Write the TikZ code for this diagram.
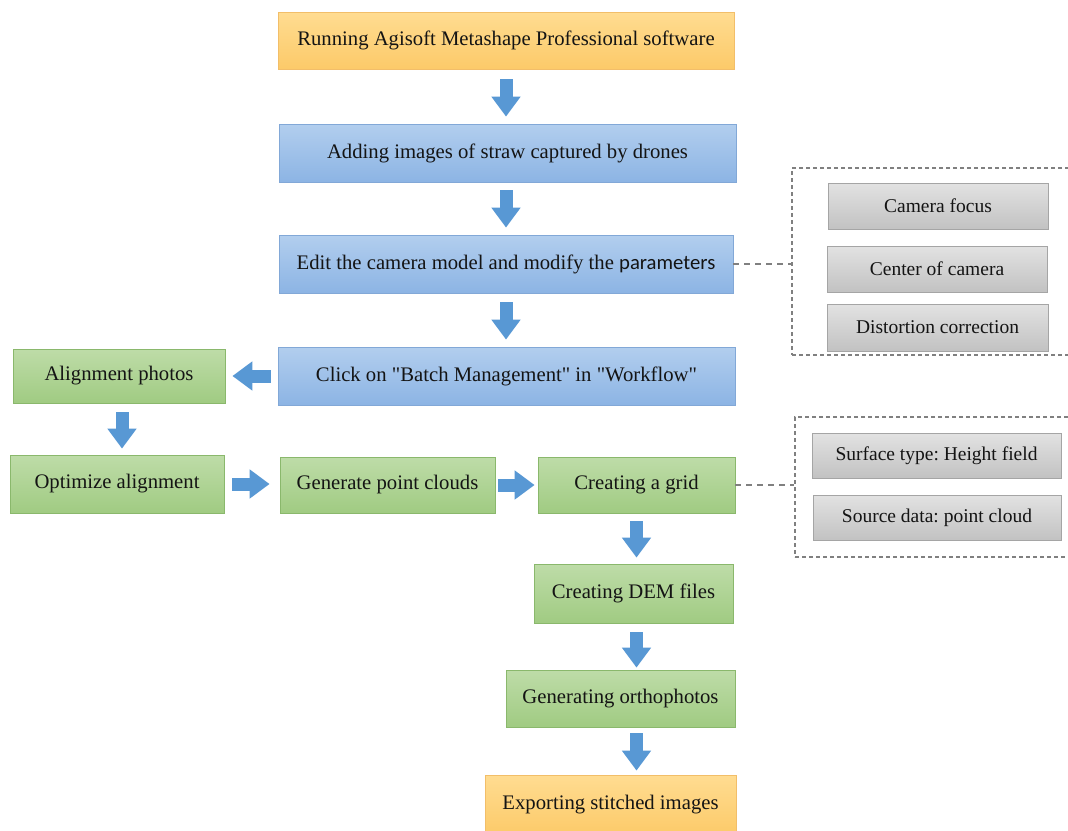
\documentclass[tikz,border=0pt]{standalone}
\usepackage{fontspec}
\setmainfont{Liberation Serif}
\newfontfamily\calibfont{Carlito}
\usetikzlibrary{arrows.meta,calc}
\definecolor{orT}{RGB}{255,220,145}
\definecolor{orB}{RGB}{252,202,105}
\definecolor{orD}{RGB}{242,190,105}
\definecolor{blT}{RGB}{178,206,238}
\definecolor{blB}{RGB}{140,180,228}
\definecolor{blD}{RGB}{130,168,215}
\definecolor{grT}{RGB}{190,220,168}
\definecolor{grB}{RGB}{160,203,130}
\definecolor{grD}{RGB}{138,184,108}
\definecolor{gyT}{RGB}{226,226,226}
\definecolor{gyB}{RGB}{194,194,194}
\definecolor{gyD}{RGB}{165,165,165}
\definecolor{arrc}{RGB}{88,152,212}
\definecolor{dashc}{RGB}{128,128,128}
\definecolor{txt}{RGB}{20,20,20}
\frenchspacing
\begin{document}
\begin{tikzpicture}[x=1pt,y=-1pt,
  font=\fontsize{20.7}{24}\selectfont,
  box/.style={draw, line width=0.8pt, inner sep=0pt, align=center, text=txt},
  orangebox/.style={box, draw=orD, top color=orT, bottom color=orB},
  bluebox/.style={box, draw=blD, top color=blT, bottom color=blB},
  greenbox/.style={box, draw=grD, top color=grT, bottom color=grB},
  graybox/.style={box, draw=gyD, top color=gyT, bottom color=gyB, font=\fontsize{19.5}{23}\selectfont},
  dashbox/.style={draw=dashc, line width=1.1pt, dash pattern=on 4pt off 3pt, inner sep=0pt},
  dashlink/.style={draw=dashc, line width=1.1pt, dash pattern=on 6pt off 5pt},
  blockarrow/.style={draw=arrc, line width=13pt, -{Triangle[length=20pt,width=28pt]}}
]
\useasboundingbox (0,0) rectangle (1068,830);
\clip (0,0) rectangle (1068,830);
\fill[white] (0,0) rectangle (1068,830);

% main column
\node[orangebox, minimum width=456pt, minimum height=57pt] (n1) at (506,40.5) {Running Agisoft Metashape Professional software};
\node[bluebox, minimum width=457pt, minimum height=58pt] (n2) at (507.5,153) {Adding images of straw captured by drones};
\node[bluebox, minimum width=454pt, minimum height=58pt] (n3) at (506,264) {Edit the camera model and modify the {\calibfont parameters}};
\node[bluebox, minimum width=457pt, minimum height=58pt] (n4) at (506.5,376) {Click on \textquotedbl Batch Management\textquotedbl{} in \textquotedbl Workflow\textquotedbl};

% green steps
\node[greenbox, minimum width=212pt, minimum height=54pt] (a1) at (119,376) {Alignment photos};
\node[greenbox, minimum width=214pt, minimum height=58pt] (a2) at (117,484) {Optimize alignment};
\node[greenbox, minimum width=215pt, minimum height=56pt] (a3) at (387.5,485) {Generate point clouds};
\node[greenbox, minimum width=197pt, minimum height=56pt] (a4) at (636.5,485) {Creating a grid};
\node[greenbox, minimum width=199pt, minimum height=59pt] (a5) at (633.5,593.5) {Creating DEM files};
\node[greenbox, minimum width=229pt, minimum height=57pt] (a6) at (620.5,698.5) {Generating orthophotos};
\node[orangebox, minimum width=251pt, minimum height=60pt] (a7) at (610.5,805) {Exporting stitched images};

% camera parameter group
\node[dashbox, minimum width=283pt, minimum height=187pt] (d1) at (933.5,261.5) {};
\node[graybox, minimum width=220pt, minimum height=46pt] (g1) at (938,206) {Camera focus};
\node[graybox, minimum width=220pt, minimum height=46pt] (g2) at (937,269) {Center of camera};
\node[graybox, minimum width=221pt, minimum height=47pt] (g3) at (937.5,327.5) {Distortion correction};

% grid parameter group
\node[dashbox, minimum width=280pt, minimum height=140pt] (d2) at (935,487) {};
\node[graybox, minimum width=249pt, minimum height=45pt] (g4) at (936.5,455.5) {Surface type: Height field};
\node[graybox, minimum width=248pt, minimum height=45pt] (g5) at (937,517.5) {Source data: point cloud};

% dashed links
\draw[dashlink] (n3.east) -- (n3.east -| d1.west);
\draw[dashlink] (a4.east) -- (a4.east -| d2.west);

% block arrows
\draw[blockarrow, shorten <=10pt, shorten >=7pt] (n1.south) -- (n2.north -| n1.south);
\draw[blockarrow, shorten <=8pt, shorten >=7pt] (n2.south -| n1.south) -- (n3.north -| n1.south);
\draw[blockarrow, shorten <=9pt, shorten >=7pt] (n3.south -| n1.south) -- (n4.north -| n1.south);
\draw[blockarrow, shorten <=7pt, shorten >=7pt] (n4.west) -- (n4.west -| a1.east);
\draw[blockarrow, shorten <=9pt, shorten >=6pt] ($(a1.south)+(3,0)$) -- ($(a1.south |- a2.north)+(3,0)$);
\draw[blockarrow, shorten <=8pt, shorten >=10pt] (a2.east) -- (a2.east -| a3.west);
\draw[blockarrow, shorten <=3pt, shorten >=3pt] (a3.east) -- (a3.east -| a4.west);
\draw[blockarrow, shorten <=8pt, shorten >=6pt] (a4.south) -- (a4.south |- a5.north);
\draw[blockarrow, shorten <=9pt, shorten >=2pt] (a4.south |- a5.south) -- (a4.south |- a6.north);
\draw[blockarrow, shorten <=6pt, shorten >=4pt] (a4.south |- a6.south) -- (a4.south |- a7.north);
\end{tikzpicture}
\end{document}
